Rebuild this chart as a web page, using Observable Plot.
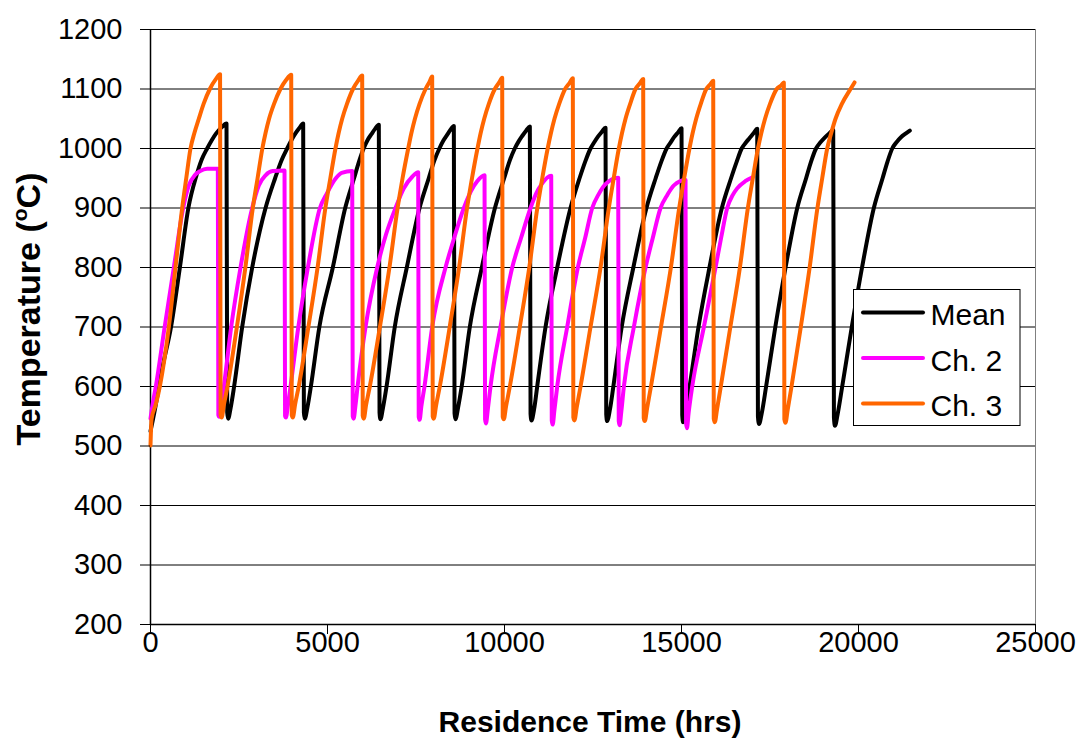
<!DOCTYPE html>
<html><head><meta charset="utf-8">
<script src="https://cdn.jsdelivr.net/npm/d3@7"></script>
<script src="https://cdn.jsdelivr.net/npm/@observablehq/plot@0.6"></script>
<style>body{margin:0;background:#fff;}</style>
</head><body><div id="chart"></div>
<script>
const seriesNames = ["Mean", "Ch. 2", "Ch. 3"];
const seriesColors = ["#000000", "#ff00ff", "#ff6600"];
const xTicks = [0, 5000, 10000, 15000, 20000, 25000];
const yTicks = [200, 300, 400, 500, 600, 700, 800, 900, 1000, 1100, 1200];

// Mean [hrs, °C]
const meanData = [
[0,525],[120,560],[330,630],[580,700],[830,800],[1070,900],[1300,955],[1450,982],[1600,1000],[1730,1014],[1850,1025],[2000,1035],[2147,1042],
[2167,556],[2192,546],[2267,565],[2362,600],[2590,700],[2873,800],[3250,900],[3520,950],[3700,980],[3860,1000],[3980,1014],[4090,1025],[4200,1034],[4313,1042],
[4333,556],[4358,546],[4433,565],[4530,600],[4770,700],[5150,800],[5500,900],[5750,950],[5890,978],[6020,1000],[6130,1014],[6240,1024],[6345,1033],[6450,1040],
[6470,556],[6495,545],[6570,565],[6668,600],[6900,700],[7240,800],[7600,900],[7860,950],[8020,980],[8160,1000],[8270,1013],[8370,1022],[8470,1031],[8569,1038],
[8589,555],[8614,545],[8690,565],[8790,600],[9020,700],[9360,800],[9730,900],[9990,950],[10150,980],[10290,1000],[10400,1012],[10500,1021],[10610,1030],[10716,1037],
[10736,554],[10761,543],[10840,563],[10924,600],[11159,700],[11489,800],[11865,900],[12120,950],[12280,978],[12430,1000],[12540,1011],[12640,1020],[12750,1028],[12854,1035],
[12874,553],[12899,542],[12980,562],[13075,600],[13310,700],[13640,800],[14010,900],[14270,950],[14430,978],[14580,1000],[14690,1010],[14790,1019],[14900,1027],[15001,1034],
[15021,552],[15046,540],[15125,560],[15230,600],[15480,700],[15790,800],[16140,900],[16400,950],[16560,978],[16700,1000],[16820,1010],[16930,1018],[17040,1026],[17139,1033],
[17159,550],[17190,537],[17270,556],[17390,600],[17650,700],[17939,800],[18270,900],[18520,950],[18660,978],[18800,1000],[18920,1010],[19040,1018],[19165,1025],[19286,1031],
[19306,548],[19335,534],[19415,555],[19540,600],[19810,700],[20100,800],[20433,900],[20680,950],[20820,978],[20953,1000],[21080,1011],[21200,1019],[21330,1025],[21450,1030]
];

// Ch. 2 [hrs, °C]
const ch2Data = [
[0,546],[60,570],[150,600],[400,700],[659,800],[923,900],[1083,938],[1250,955],[1400,962],[1600,966],[1902,966],
[1917,552],[1942,549],[2000,570],[2072,600],[2279,700],[2543,800],[2873,900],[3060,938],[3250,955],[3450,962],[3786,963],
[3801,551],[3826,548],[3885,570],[3956,600],[4176,700],[4446,800],[4786,900],[4986,925],[5236,950],[5400,959],[5698,962],
[5713,550],[5738,546],[5790,568],[5850,600],[6074,700],[6404,800],[6650,855],[6921,900],[7156,933],[7400,953],[7562,960],
[7577,549],[7602,544],[7650,566],[7740,600],[7957,700],[8334,800],[8580,850],[8851,900],[9050,928],[9229,945],[9436,955],
[9451,545],[9476,538],[9530,562],[9605,600],[9887,700],[10218,800],[10470,850],[10735,900],[10900,925],[11050,940],[11320,954],
[11335,543],[11360,536],[11410,560],[11489,600],[11771,700],[12072,800],[12280,850],[12478,900],[12650,922],[12854,940],[13212,951],
[13227,542],[13252,535],[13300,558],[13372,600],[13654,700],[13984,800],[14190,850],[14408,900],[14600,922],[14785,938],[15114,947],
[15129,538],[15154,530],[15200,555],[15303,600],[15632,700],[15961,800],[16120,850],[16291,900],[16450,922],[16573,933],[16800,945],[16990,951]
];

// Ch. 3 [hrs, °C]
const ch3Data = [
[0,501],[30,545],[150,570],[263,600],[518,700],[706,800],[895,900],[1010,950],[1130,1000],[1240,1026],[1365,1050],[1500,1075],[1676,1100],[1850,1117],[1965,1125],
[1980,552],[2010,548],[2075,570],[2175,600],[2440,700],[2680,800],[2890,900],[3025,950],[3160,1000],[3250,1026],[3350,1050],[3490,1075],[3670,1100],[3830,1115],[3975,1124],
[3990,552],[4020,548],[4085,570],[4187,600],[4460,700],[4720,800],[4940,900],[5080,950],[5225,1000],[5315,1026],[5415,1050],[5550,1075],[5720,1100],[5865,1114],[5980,1122.5],
[5995,551],[6025,546],[6090,569],[6195,600],[6480,700],[6750,800],[6980,900],[7120,950],[7280,1000],[7370,1026],[7470,1050],[7600,1075],[7770,1100],[7880,1112],[7957,1121],
[7972,550],[8002,546],[8067,568],[8172,600],[8452,700],[8717,800],[8942,900],[9082,950],[9237,1000],[9327,1026],[9427,1050],[9557,1075],[9727,1100],[9850,1111],[9935,1119],
[9950,549],[9980,545],[10045,567],[10151,600],[10432,700],[10700,800],[10927,900],[11067,950],[11220,1000],[11312,1026],[11412,1050],[11545,1075],[11712,1100],[11835,1110],[11930,1118],
[11945,548],[11975,543],[12040,565],[12148,600],[12430,700],[12713,800],[12947,900],[13085,950],[13230,1000],[13320,1026],[13419,1050],[13550,1075],[13701,1100],[13830,1110],[13918,1117],
[13933,547],[13963,542],[14030,564],[14137,600],[14420,700],[14700,800],[14935,900],[15075,950],[15225,1000],[15315,1026],[15415,1050],[15545,1075],[15700,1100],[15815,1108],[15896,1114],
[15911,546],[15941,540],[16005,562],[16110,600],[16380,700],[16650,800],[16875,900],[17015,950],[17160,1000],[17255,1026],[17360,1050],[17500,1075],[17690,1100],[17815,1106],[17891,1111],
[17906,545],[17936,539],[18000,561],[18108,600],[18370,700],[18620,800],[18840,900],[18975,950],[19116,1000],[19230,1026],[19351,1050],[19530,1075],[19775,1100],[19888,1111]
];

const rows = [];
[meanData, ch2Data, ch3Data].forEach((arr, i) =>
  arr.forEach(([t, v]) => rows.push({series: seriesNames[i], t, v})));

const FONT = "'Liberation Sans', Arial, Helvetica, sans-serif";

const plot = Plot.plot({
  width: 1081, height: 741,
  marginLeft: 150, marginRight: 46, marginTop: 29, marginBottom: 117,
  style: {fontFamily: FONT, fontSize: "29px", color: "#000", background: "#fff", overflow: "visible"},
  x: {domain: [0, 25000], label: null},
  y: {domain: [200, 1200], label: null},
  color: {domain: seriesNames, range: seriesColors},
  marks: [
    Plot.frame({stroke: "#808080"}),
    Plot.gridY(yTicks.slice(1), {stroke: "#000", strokeOpacity: 1}),
    Plot.ruleX([0], {stroke: "#000", strokeWidth: 1.5}),
    Plot.ruleY([200], {stroke: "#000", strokeWidth: 1.5}),
    Plot.line(rows, {x: "t", y: "v", z: "series", stroke: "series", strokeWidth: 4,
      curve: "monotone-x", strokeLinejoin: "round", strokeLinecap: "round"}),
    Plot.axisX({ticks: xTicks, tickSize: 10, tickPadding: -3, tickFormat: d3.format("d"), label: null, fontSize: 29}),
    Plot.axisY({ticks: yTicks, tickSize: 10, tickPadding: 18, tickFormat: d3.format("d"), label: null, fontSize: 29})
  ]
});

const svg = d3.select(plot);
// axis titles
svg.append("text")
  .attr("x", 590).attr("y", 732)
  .attr("text-anchor", "middle")
  .attr("font-family", FONT).attr("font-size", 30).attr("font-weight", "bold")
  .attr("fill", "#000")
  .text("Residence Time (hrs)");

const yt = svg.append("text")
  .attr("transform", "translate(39.5,309) rotate(-90)")
  .attr("text-anchor", "middle")
  .attr("font-family", FONT).attr("font-size", 34).attr("font-weight", "bold")
  .attr("fill", "#000");
yt.append("tspan").text("Temperature (");
yt.append("tspan").attr("font-size", 21).attr("dy", -13).text("o");
yt.append("tspan").attr("dy", 13).text("C)");

// legend
const lg = svg.append("g").attr("text-anchor", "start");
lg.append("rect").attr("x", 853.5).attr("y", 289.5).attr("width", 166.5).attr("height", 136)
  .attr("fill", "#fff").attr("stroke", "#000").attr("stroke-width", 1);
const ly = [312.5, 358, 403.5];
seriesNames.forEach((name, i) => {
  lg.append("line").attr("x1", 863).attr("x2", 923).attr("y1", ly[i]).attr("y2", ly[i])
    .attr("stroke", seriesColors[i]).attr("stroke-width", 4).attr("stroke-linecap", "round");
  lg.append("text").attr("x", 930.5).attr("y", ly[i] + 12.5).attr("text-anchor", "start")
    .attr("font-family", FONT).attr("font-size", 30).attr("fill", "#000").text(name);
});

document.getElementById("chart").appendChild(plot);
</script>
</body></html>
